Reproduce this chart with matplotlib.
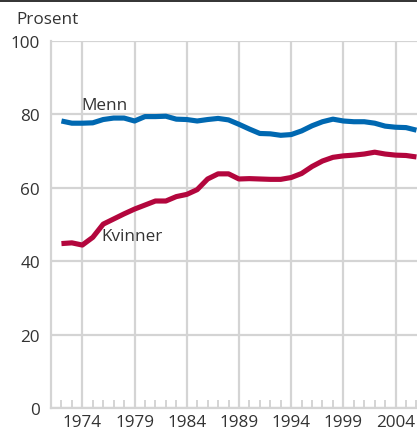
import numpy as np
import matplotlib
matplotlib.use("Agg")
import matplotlib.pyplot as plt
from matplotlib.lines import Line2D

plt.rcParams['font.family'] = ['Open Sans', 'DejaVu Sans']

# Data
years = list(range(1972, 2007))
menn = [78.2, 77.6, 77.6, 77.7, 78.6, 79.0, 79.0, 78.2, 79.4, 79.4,
        79.5, 78.7, 78.6, 78.2, 78.6, 78.9, 78.5, 77.3, 76.0, 74.8,
        74.7, 74.3, 74.5, 75.5, 76.9, 78.0, 78.7, 78.2, 78.0, 78.0,
        77.6, 76.8, 76.5, 76.4, 75.7]
kvinner = [44.8, 45.0, 44.4, 46.5, 50.1, 51.5, 52.9, 54.2, 55.3, 56.4,
           56.4, 57.6, 58.2, 59.5, 62.4, 63.8, 63.8, 62.4, 62.5, 62.4,
           62.3, 62.3, 62.8, 63.9, 65.8, 67.3, 68.3, 68.7, 68.9, 69.2,
           69.7, 69.2, 68.9, 68.8, 68.4]
xticks = [1974, 1979, 1984, 1989, 1994, 1999, 2004]
yticks = [0, 20, 40, 60, 80, 100]

text_col = '#333333'
grid_col = '#d4d4d4'
blue = '#0068b1'
red = '#b3063d'

fig = plt.figure(figsize=(4.17, 4.31), dpi=100)
ax = fig.add_axes([0.1223, 0.051, 0.8777, 0.8516])

ax.plot(years, menn, color=blue, lw=3.7, solid_capstyle='butt', zorder=3)
ax.plot(years, kvinner, color=red, lw=3.7, solid_capstyle='butt', zorder=3)

ax.set_xlim(1971.5, 2006.05)
ax.set_ylim(0, 100)
ax.set_xticks(xticks)
ax.set_yticks(yticks)
ax.set_xticks(years + [1971], minor=True)
ax.grid(True, which='major', color=grid_col, lw=1.6, zorder=1)
ax.set_axisbelow(True)

for s in ['top', 'right']:
    ax.spines[s].set_visible(False)
for s in ['left', 'bottom']:
    ax.spines[s].set_color(grid_col)
    ax.spines[s].set_linewidth(1.6)

ax.tick_params(axis='x', which='major', length=0, pad=4, labelsize=12.3, labelcolor=text_col)
ax.tick_params(axis='x', which='minor', direction='in', length=6, width=1.4, color=grid_col)
ax.tick_params(axis='y', which='major', length=0, pad=8, labelsize=12.3, labelcolor=text_col)

ax.text(1973.95, 82.6, 'Menn', fontsize=12.3, color=text_col, va='center', ha='left')
ax.text(1975.8, 46.8, 'Kvinner', fontsize=12.3, color=text_col, va='center', ha='left')

fig.text(16 / 417, 1 - 20 / 431, 'Prosent', fontsize=12.3, color=text_col, va='center', ha='left')
fig.add_artist(Line2D([0, 1], [0.996, 0.996], color='#222222', lw=1.3, transform=fig.transFigure))

fig.savefig('out.png', dpi=100)
